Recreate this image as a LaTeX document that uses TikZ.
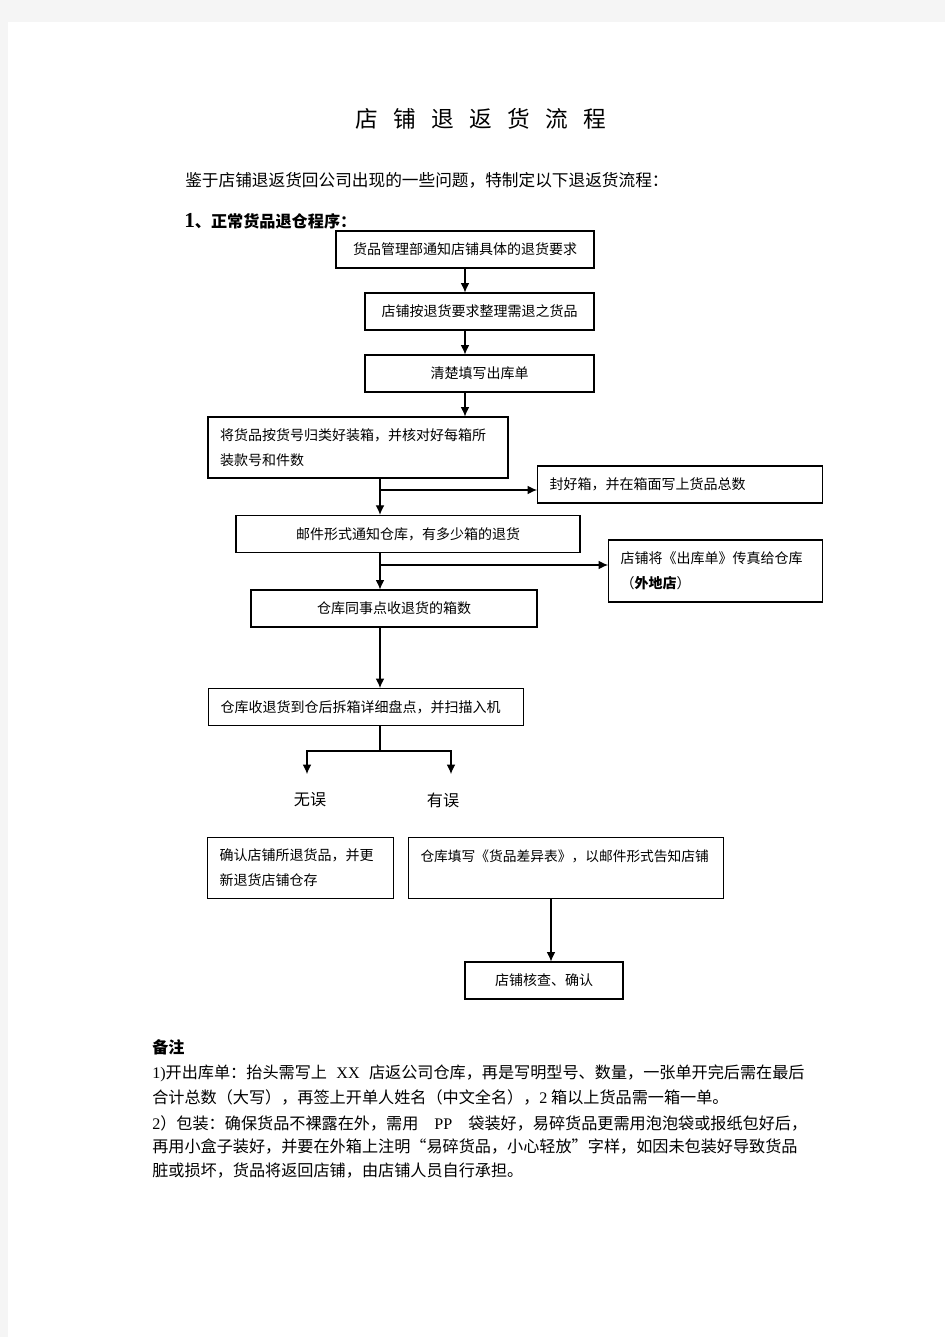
\documentclass[tikz,border=0pt]{standalone}
\usepackage{fontspec}
\setmainfont{Noto Sans CJK SC}
\newfontfamily\lat{Liberation Serif}
\usetikzlibrary{arrows.meta}
\newcommand{\tgap}{\hspace{11.5pt}}

\begin{document}
\begin{tikzpicture}[x=0.75pt,y=-0.75pt,>={Latex[length=7pt,width=6.5pt]},
    box/.style={draw,line width=0.8pt,inner sep=0pt,font=\fontsize{10.5}{18.75}\selectfont,minimum height=27.75pt},
    lbox/.style={box,align=left,inner xsep=9pt},
    line/.style={line width=0.8pt},
    txt/.style={inner sep=0pt,font=\fontsize{12.1}{14}\selectfont}]
% page
\useasboundingbox (0,0) rectangle (945,1337);
\fill[black!4] (0,0) rectangle (945,1337);
\fill[white] (8,22) rectangle (945,1337);
% head
    \node[inner sep=0pt,font=\fontsize{17}{19}\selectfont] (title) at (481,119) {店\tgap 铺\tgap 退\tgap 返\tgap 货\tgap 流\tgap 程};
    \node[txt,anchor=west,font=\fontsize{12.5}{14}\selectfont] (intro) at (185,180) {鉴于店铺退返货回公司出现的一些问题，特制定以下退返货流程：};
    \node[txt,anchor=west] (sec1) at (184,221) {{\lat\fontsize{16}{18}\selectfont\bfseries 1}\bfseries 、正常货品退仓程序：};
% boxes
    \node[box,minimum width=193.5pt] (b1) at (465,249.5) {货品管理部通知店铺具体的退货要求};
    \node[box,minimum width=171.75pt] (b2) at (479.5,311.5) {店铺按退货要求整理需退之货品};
    \node[box,minimum width=171.75pt] (b3) at (479.5,373.5) {清楚填写出库单};
    \node[lbox,text width=207pt,minimum height=45.75pt] (b4) at (358,447.5) {将货品按货号归类好装箱，并核对好每箱所\\装款号和件数};
    \node[lbox,text width=195.75pt] (b6) at (680,484.5) {封好箱，并在箱面写上货品总数};
    \node[box,minimum width=258pt,line width=1.1pt] (b5) at (408,534) {邮件形式通知仓库，有多少箱的退货};
    \node[lbox,text width=142.5pt,minimum height=46.5pt] (b8) at (715.5,571) {店铺将《出库单》传真给仓库\\（\textbf{外地店}）};
    \node[box,minimum width=214.5pt] (b7) at (394,608.5) {仓库同事点收退货的箱数};
    \node[lbox,text width=218.25pt] (b9) at (366,707) {仓库收退货到仓后拆箱详细盘点，并扫描入机};
    \node[txt] (ok) at (310,800) {无误};
    \node[txt] (err) at (443,800) {有误};
    \node[lbox,text width=121.5pt,minimum height=45.75pt] (b10) at (300.5,868) {确认店铺所退货品，并更\\新退货店铺仓存};
    \node[lbox,text width=218.25pt,minimum height=45.75pt,font=\fontsize{10.3}{18.75}\selectfont] (b11) at (566,868) {仓库填写《货品差异表》，以邮件形式告知店铺\\\mbox{}};
    \node[box,minimum width=118.5pt] (b12) at (544,980.5) {店铺核查、确认};
% arrows
    \coordinate (stem) at (380,0);
    \coordinate (j1) at (380,490);
    \coordinate (j2) at (380,565);
    \coordinate (j3) at (380,751);
    \coordinate (okA) at (307,774);
    \coordinate (errA) at (451,774);
    \coordinate (k1) at (551,0);
    \draw[->,line] (b1.south) -- (b1.south |- b2.north);
    \draw[->,line] (b1.south |- b2.south) -- (b1.south |- b3.north);
    \draw[->,line] (b1.south |- b3.south) -- (b1.south |- b4.north);
    \draw[->,line] (stem |- b4.south) -- (stem |- b5.north);
    \draw[->,line] (j1) -- (j1 -| b6.west);
    \draw[->,line] (stem |- b5.south) -- (stem |- b7.north);
    \draw[->,line] (j2) -- (j2 -| b8.west);
    \draw[->,line] (stem |- b7.south) -- (stem |- b9.north);
    \draw[line] (stem |- b9.south) -- (j3);
    \draw[->,line] (j3) -| (okA);
    \draw[->,line] (j3) -| (errA);
    \draw[->,line] (k1 |- b11.south) -- (k1 |- b12.north);
% notes
    \node[txt,anchor=west] (n0) at (152,1047) {\bfseries 备注};
    \node[txt,anchor=west] (n1) at (152,1073) {{\lat 1)}开出库单：抬头需写上\hspace{7pt}{\lat XX}\hspace{7pt}店返公司仓库，再是写明型号、数量，一张单开完后需在最后};
    \node[txt,anchor=west] (n2) at (152,1097) {合计总数（大写），再签上开单人姓名（中文全名），{\lat 2} 箱以上货品需一箱一单。};
    \node[txt,anchor=west] (n3) at (152,1123) {{\lat 2}）包装：确保货品不裸露在外，需用\hspace{12pt}{\lat PP}\hspace{12pt}袋装好，易碎货品更需用泡泡袋或报纸包好后，};
    \node[txt,anchor=west] (n4) at (152,1147) {再用小盒子装好，并要在外箱上注明“易碎货品，小心轻放”字样，如因未包装好导致货品};
    \node[txt,anchor=west] (n5) at (152,1171) {脏或损坏，货品将返回店铺，由店铺人员自行承担。};
\end{tikzpicture}
\end{document}
